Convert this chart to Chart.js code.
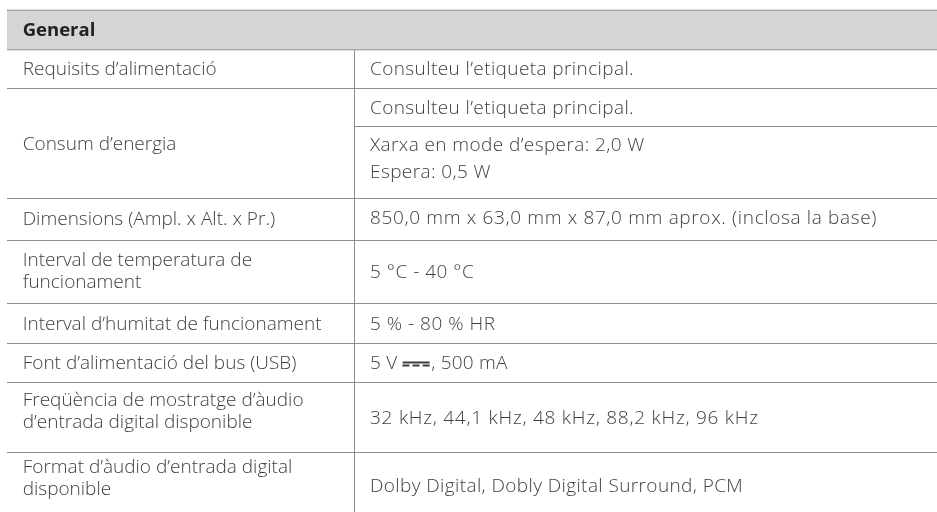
<!DOCTYPE html>
<html>
<head>
<meta charset="utf-8">
<script src="https://cdn.jsdelivr.net/npm/chart.js@4/dist/chart.umd.min.js"></script>
<style>
  html, body { margin: 0; padding: 0; background: #fff; }
  #wrap { width: 937px; height: 512px; }
</style>
</head>
<body>
<div id="wrap"><canvas id="specChart" width="937" height="512"></canvas></div>
<script>
// table content
const sectionTitle = "General";
const specLabels = [
  "Requisits d’alimentació",
  "Consum d’energia",
  "Dimensions (Ampl. x Alt. x Pr.)",
  "Interval de temperatura de\nfuncionament",
  "Interval d’humitat de funcionament",
  "Font d’alimentació del bus (USB)",
  "Freqüència de mostratge d’àudio\nd’entrada digital disponible",
  "Format d’àudio d’entrada digital\ndisponible"
];
const specValues = [
  ["Consulteu l’etiqueta principal."],
  ["Consulteu l’etiqueta principal.", "Xarxa en mode d’espera: 2,0 W\nEspera: 0,5 W"],
  ["850,0 mm x 63,0 mm x 87,0 mm aprox. (inclosa la base)"],
  ["5 °C - 40 °C"],
  ["5 % - 80 % HR"],
  ["5 V ⎓, 500 mA"],
  ["32 kHz, 44,1 kHz, 48 kHz, 88,2 kHz, 96 kHz"],
  ["Dolby Digital, Dobly Digital Surround, PCM"]
];

// layout (table units = px)
const TABLE_W = 930;
const TABLE_H = 502;
const headerH = 39;
const rowH = [[39], [38, 72], [42], [63], [40], [39], [70], [70]];
const colSplit = 347.5;
const lineGap = [22, 27];
const labelShift = [1, 1, 0, 0, 1, 1, -6, -9];
const valueShift = [1, 1, -1, 1, 1, 1, 1, -1];
const valueSpacing = [0.4, 0.4, 0.65, 0.5, 0.5, 0.2, 0.75, 0.4];

const ruleColor = "#8c8c8c";
const textColor = "#3f3f3f";
const FONT = '"Open Sans", "Noto Sans", sans-serif';
const TEXT_FONT = "300 19px " + FONT;

// row edges
const top0 = 0.5;
const rowEdges = [top0 + headerH];
const subEdges = [];
rowH.forEach((parts) => {
  let y = rowEdges[rowEdges.length - 1];
  const subs = [y];
  parts.forEach(h => { y += h; subs.push(y); });
  subEdges.push(subs);
  rowEdges.push(y);
});

const hLine = (y, color, width) => ({
  data: [{ x: 0, y: y }, { x: TABLE_W, y: y }],
  borderColor: color, borderWidth: width, pointRadius: 0, showLine: true, clip: false
});

const datasets = [];
// header band
datasets.push({
  data: [{ x: 0, y: top0 }, { x: TABLE_W, y: top0 }],
  borderWidth: 0, pointRadius: 0, showLine: true,
  backgroundColor: "#d4d5d6", fill: { value: top0 + headerH }, clip: false
});
datasets.push(hLine(top0, "#707070", 1.5));
rowEdges.forEach((y, i) => datasets.push(hLine(y, i === 0 ? "#7a7a7a" : ruleColor, i === 0 ? 1.3 : 1)));
// sub rules inside a row (right column only)
subEdges.forEach(subs => {
  subs.slice(1, -1).forEach(y => datasets.push({
    data: [{ x: colSplit, y: y }, { x: TABLE_W, y: y }],
    borderColor: ruleColor, borderWidth: 1, pointRadius: 0, showLine: true, clip: false
  }));
});
// column divider
datasets.push({
  data: [{ x: colSplit, y: top0 + headerH }, { x: colSplit, y: TABLE_H + 20 }],
  borderColor: ruleColor, borderWidth: 1, pointRadius: 0, showLine: true, clip: false
});

// draws one line, the DC sign gets a wider glyph
function drawRun(ctx, text, x, y) {
  const parts = text.split("⎓");
  parts.forEach((p, k) => {
    ctx.fillText(p, x, y);
    x += ctx.measureText(p).width;
    if (k < parts.length - 1) {
      ctx.save();
      ctx.font = "bold 22px DejaVu Sans";
      ctx.letterSpacing = "0px";
      ctx.translate(x, y);
      ctx.scale(1.6, 1);
      ctx.fillText("⎓", 0, 0);
      const w = ctx.measureText("⎓").width * 1.6;
      ctx.restore();
      x += w;
    }
  });
}

function drawLines(ctx, text, x, yMid, gap) {
  const lines = text.split("\n");
  const y0 = yMid - (lines.length - 1) * gap / 2;
  lines.forEach((ln, k) => drawRun(ctx, ln, x, y0 + k * gap));
}

const textPlugin = {
  id: "cellText",
  afterDatasetsDraw(chart) {
    const { ctx, scales: { x, y } } = chart;
    ctx.save();
    ctx.textBaseline = "middle";
    ctx.textAlign = "left";
    ctx.fillStyle = "#222";
    ctx.font = "bold 18.5px " + FONT;
    ctx.fillText(sectionTitle, x.getPixelForValue(15.7), y.getPixelForValue(top0 + headerH / 2) + 1);

    ctx.fillStyle = textColor;
    ctx.font = TEXT_FONT;
    ctx.letterSpacing = "0px";
    specLabels.forEach((label, i) => {
      const mid = (y.getPixelForValue(rowEdges[i]) + y.getPixelForValue(rowEdges[i + 1])) / 2;
      drawLines(ctx, label, x.getPixelForValue(15.7), mid + labelShift[i], lineGap[0]);
    });
    specValues.forEach((vals, i) => {
      const subs = subEdges[i];
      ctx.letterSpacing = valueSpacing[i] + "px";
      vals.forEach((v, j) => {
        const mid = (y.getPixelForValue(subs[j]) + y.getPixelForValue(subs[j + 1])) / 2;
        drawLines(ctx, v, x.getPixelForValue(colSplit + 15.5), mid + valueShift[i] + (j === 1 ? -4 : 0), j === 1 ? lineGap[1] : lineGap[0]);
      });
    });
    ctx.restore();
  }
};

new Chart(document.getElementById("specChart"), {
  type: "scatter",
  data: { datasets: datasets },
  options: {
    responsive: false,
    animation: false,
    events: [],
    layout: { padding: { left: 7, top: 10, right: 0, bottom: 0 } },
    plugins: { legend: { display: false }, tooltip: { enabled: false } },
    scales: {
      x: { type: "linear", min: 0, max: TABLE_W, display: false },
      y: { type: "linear", min: 0, max: TABLE_H, reverse: true, display: false }
    }
  },
  plugins: [textPlugin]
});
</script>
</body>
</html>
